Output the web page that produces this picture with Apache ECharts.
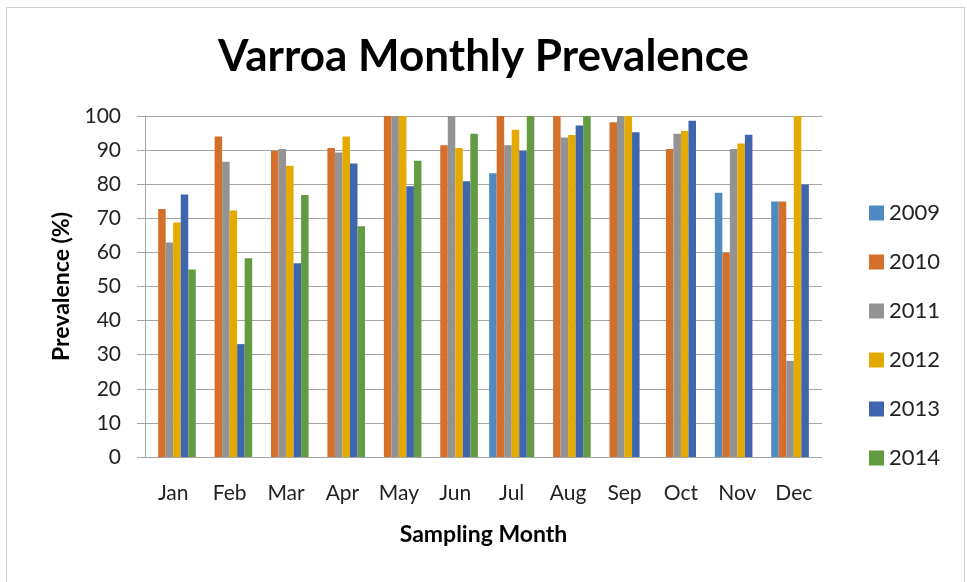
<!DOCTYPE html>
<html>
<head>
<meta charset="utf-8">
<script src="https://cdn.jsdelivr.net/npm/echarts@6/dist/echarts.min.js"></script>
<style>
html,body{margin:0;padding:0;background:#fff;}
#main{width:967px;height:582px;}
</style>
</head>
<body>
<div id="main"></div>
<script>
const months = ['Jan','Feb','Mar','Apr','May','Jun','Jul','Aug','Sep','Oct','Nov','Dec'];
const years = ['2009','2010','2011','2012','2013','2014'];
const v2009 = [null, null, null, null, null, null, 83.2, null, null, null, 77.5, 74.9];
const v2010 = [72.7, 94.0, 89.8, 90.6, 100, 91.4, 100, 100, 98.2, 90.3, 59.8, 74.9];
const v2011 = [62.9, 86.6, 90.3, 89.3, 100, 100, 91.4, 93.7, 100, 94.8, 90.3, 28.2];
const v2012 = [68.8, 72.3, 85.4, 94.0, 100, 90.6, 96.0, 94.4, 100, 95.6, 91.9, 100];
const v2013 = [77.0, 33.1, 56.8, 86.1, 79.4, 80.9, 89.7, 97.2, 95.2, 98.6, 94.5, 79.9];
const v2014 = [55.0, 58.3, 76.8, 67.7, 86.9, 94.8, 100, 100, null, null, null, null];
const yTicks = [0,10,20,30,40,50,60,70,80,90,100];

const seriesValues = [v2009, v2010, v2011, v2012, v2013, v2014];
const colors = ['#4f8bc0','#d56f2c','#939393','#e4aa00','#3e65ad','#629b41'];
const font = 'Lato, "Open Sans", sans-serif';

const chart = echarts.init(document.getElementById('main'));
chart.setOption({
  animation: false,
  color: colors,
  title: {
    text: 'Varroa Monthly Prevalence',
    left: 'center',
    top: 30,
    textStyle: {fontFamily: font, fontWeight: 'bold', fontSize: 44, color: '#000'}
  },
  graphic: [{
    type: 'rect', left: 4, top: 5,
    shape: {width: 958, height: 575},
    style: {fill: 'none', stroke: '#d0d0d0', lineWidth: 1}
  }],
  legend: {
    orient: 'vertical',
    left: 864,
    top: 197,
    itemWidth: 15,
    itemHeight: 15,
    itemGap: 27,
    icon: 'rect',
    data: years,
    textStyle: {fontFamily: font, fontSize: 22, color: '#222', lineHeight: 22}
  },
  grid: {left: 145, right: 145, top: 116, bottom: 125, containLabel: false},
  xAxis: {
    type: 'category',
    data: months,
    name: 'Sampling Month',
    nameLocation: 'middle',
    nameGap: 66,
    nameTextStyle: {fontFamily: font, fontWeight: 'bold', fontSize: 23, color: '#000'},
    axisLine: {lineStyle: {color: '#a6a6a6', width: 1}},
    axisTick: {show: false},
    axisLabel: {fontFamily: font, fontSize: 21, color: '#222', margin: 26}
  },
  yAxis: {
    type: 'value',
    min: 0, max: 100, interval: 10,
    name: 'Prevalence (%)',
    nameLocation: 'middle',
    nameRotate: 90,
    nameGap: 72,
    nameTextStyle: {fontFamily: font, fontWeight: 'bold', fontSize: 23, color: '#000'},
    axisLine: {show: true, lineStyle: {color: '#a6a6a6', width: 1}},
    axisTick: {show: true, length: 8, lineStyle: {color: '#a6a6a6'}},
    splitLine: {lineStyle: {color: '#a6a6a6', width: 1}},
    axisLabel: {
      fontFamily: font, fontSize: 21, color: '#222', margin: 24,
      formatter: function (v) { return yTicks.indexOf(v) >= 0 ? String(v) : ''; }
    }
  },
  series: seriesValues.map((vals, i) => ({
    name: years[i],
    type: 'bar',
    data: vals,
    barGap: '0%',
    barCategoryGap: '20%',
    itemStyle: {color: colors[i]}
  }))
});
</script>
</body>
</html>
